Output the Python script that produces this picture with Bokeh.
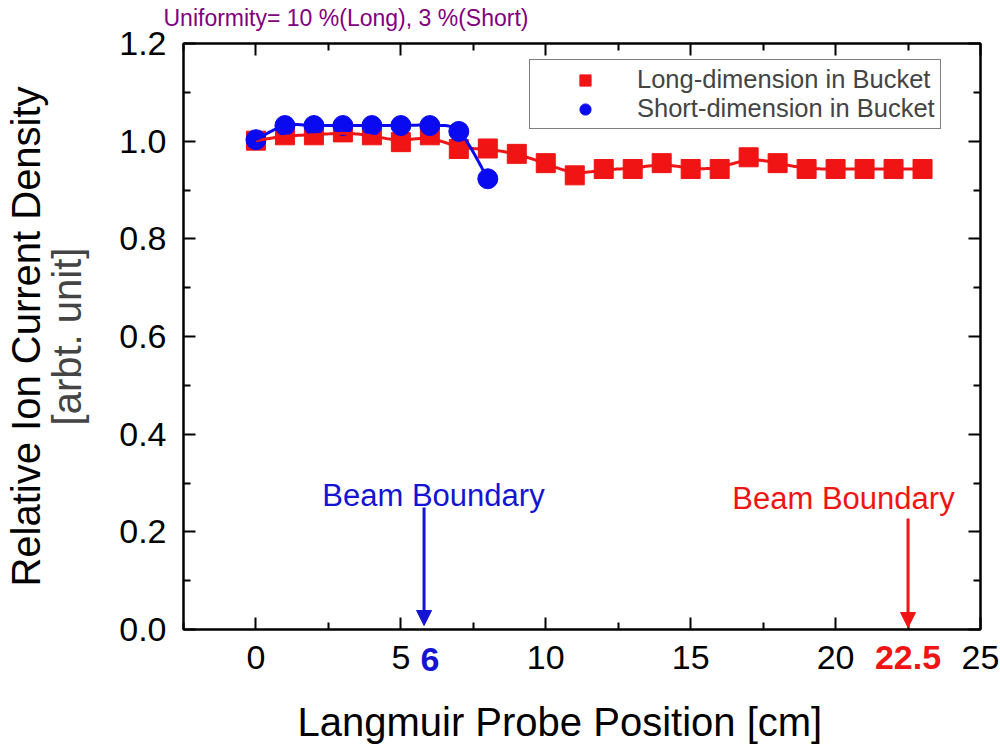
import numpy as np
from bokeh.plotting import figure
from bokeh.models import (Range1d, LinearAxis, Label, Arrow, NormalHead, Legend, LegendItem,
                          FixedTicker, PrintfTickFormatter, Title)
from bokeh.embed import file_html
from bokeh.resources import INLINE

# ---------------- data ----------------
long_x = [0, 1, 2, 3, 4, 5, 6, 7, 8, 9, 10, 11, 12, 13, 14, 15, 16, 17, 18, 19, 20, 21, 22, 23]
long_y = [1.001, 1.012, 1.012, 1.018, 1.012, 0.998, 1.012, 0.984, 0.985, 0.974, 0.955, 0.930,
          0.943, 0.943, 0.955, 0.943, 0.943, 0.967, 0.955, 0.943, 0.943, 0.943, 0.943, 0.943]
short_x = [0, 1, 2, 3, 4, 5, 6, 7, 8]
short_y = [1.003, 1.032, 1.032, 1.032, 1.032, 1.032, 1.032, 1.020, 0.923]

x_ticks = [0, 5, 10, 15, 20, 25]
x_minor = [-2.5, 2.5, 7.5, 12.5, 17.5, 22.5]
y_ticks = [0.0, 0.2, 0.4, 0.6, 0.8, 1.0, 1.2]
y_minor = [0.1, 0.3, 0.5, 0.7, 0.9, 1.1]
boundary_short = 5.8     # arrow position
boundary_short_tick = [6]
boundary_long = 22.5
boundary_long_tick = [22.5]
long_label = "Long-dimension in Bucket"
short_label = "Short-dimension in Bucket"
title_text = "Uniformity= 10 %(Long), 3 %(Short)"
x_title = "Langmuir Probe Position [cm]"
y_title = ["Relative Ion Current Density", "[arbt. unit]"]

RED = "#f01414"
BLUE = "#0a0af0"
BLUE_TXT = "#1414d2"
PURPLE = "#800080"
FONT = "Liberation Sans"
TICK_PX = 34
TICK_H = 28          # layout height of a 34px tick label row
BLANK_H = 41         # layout height of a blank 34px label
TICK_GAP = 18        # gap between frame and x tick labels

XMIN, XMAX, YMIN, YMAX = -2.5, 25.0, 0.0, 1.2
# frame in page pixels
FL, FR, FT, FB = 183, 980, 43, 629


def dx(px):
    return XMIN + (px - FL) / (FR - FL) * (XMAX - XMIN)


def dy(py):
    return YMIN + (FB - py) / (FB - FT) * (YMAX - YMIN)


def bspline_curve(xs, ys, k=3, n=500):
    P = np.column_stack([xs, ys]).astype(float)
    m = len(P)
    knots = np.concatenate([np.zeros(k), np.linspace(0, 1, m - k + 1), np.ones(k)])
    t = np.linspace(0, 1 - 1e-9, n)

    def N(i, p):
        if p == 0:
            return ((knots[i] <= t) & (t < knots[i + 1])).astype(float)
        out = np.zeros_like(t)
        d1 = knots[i + p] - knots[i]
        if d1 > 0:
            out += (t - knots[i]) / d1 * N(i, p - 1)
        d2 = knots[i + p + 1] - knots[i + 1]
        if d2 > 0:
            out += (knots[i + p + 1] - t) / d2 * N(i + 1, p - 1)
        return out

    B = np.array([N(i, k) for i in range(m)])
    C = B.T @ P
    return C[:, 0], C[:, 1]


def catmull_rom(xs, ys, n=40):
    P = np.column_stack([xs, ys]).astype(float)
    P = np.vstack([P[0], P, P[-1]])
    segs = []
    s = np.linspace(0, 1, n)[:, None]
    for i in range(1, len(P) - 2):
        p0, p1, p2, p3 = P[i - 1], P[i], P[i + 1], P[i + 2]
        c = 0.5 * ((2 * p1) + (-p0 + p2) * s + (2 * p0 - 5 * p1 + 4 * p2 - p3) * s ** 2
                   + (-p0 + 3 * p1 - 3 * p2 + p3) * s ** 3)
        segs.append(c)
    C = np.vstack(segs)
    return C[:, 0], C[:, 1]


p = figure(frame_width=FR - FL, frame_height=FB - FT,
           x_range=Range1d(XMIN, XMAX), y_range=Range1d(YMIN, YMAX),
           output_backend="svg", toolbar_location=None,
           min_border_left=FL, min_border_right=19, min_border_top=FT,
           min_border_bottom=108, background_fill_color="white", border_fill_color="white")
p.xgrid.visible = False
p.ygrid.visible = False
p.outline_line_color = "black"
p.outline_line_width = 2

main_x = p.below[0]
main_y = p.left[0]
main_x.ticker = FixedTicker(ticks=x_ticks, minor_ticks=x_minor)
main_y.ticker = FixedTicker(ticks=y_ticks, minor_ticks=y_minor)
main_y.formatter = PrintfTickFormatter(format="%.1f")

top_ax = LinearAxis(ticker=FixedTicker(ticks=x_ticks, minor_ticks=x_minor))
right_ax = LinearAxis(ticker=FixedTicker(ticks=y_ticks, minor_ticks=y_minor))
p.add_layout(top_ax, "above")
p.add_layout(right_ax, "right")

for ax in [main_x, main_y, top_ax, right_ax]:
    ax.major_tick_in = 12
    ax.major_tick_out = 0
    ax.minor_tick_in = 7
    ax.minor_tick_out = 0
    ax.axis_line_width = 2
    ax.major_tick_line_width = 2
    ax.minor_tick_line_width = 2
    ax.major_label_text_font = FONT
    ax.major_label_text_font_size = f"{TICK_PX}px"
    ax.major_label_text_color = "black"
for ax in [top_ax, right_ax, main_x]:
    ax.major_label_text_font_size = "1px"
    ax.major_label_text_alpha = 0
    ax.major_label_standoff = 0
main_y.major_label_standoff = 17
main_y.axis_label = y_title[1]
main_y.axis_label_text_font = FONT
main_y.axis_label_text_font_size = "40px"
main_y.axis_label_text_font_style = "normal"
main_y.axis_label_standoff = 27


def text_axis(side, ticks=(), label="", standoff=0, size="40px",
              color="black", bold=False, lab_standoff=0, overrides=None):
    ax = LinearAxis(ticker=FixedTicker(ticks=list(ticks)),
                    axis_line_color=None, major_tick_line_color=None,
                    minor_tick_line_color=None, major_tick_in=0, major_tick_out=0,
                    minor_tick_in=0, minor_tick_out=0,
                    major_label_text_font=FONT, major_label_text_font_size=size,
                    major_label_text_color=color,
                    major_label_text_font_style="bold" if bold else "normal",
                    major_label_standoff=lab_standoff)
    if overrides:
        ax.major_label_overrides = overrides
    if label:
        ax.axis_label = label
        ax.axis_label_text_font = FONT
        ax.axis_label_text_font_size = size
        ax.axis_label_text_font_style = "normal"
        ax.axis_label_text_color = color
        ax.axis_label_standoff = standoff
    p.add_layout(ax, side)
    return ax


def spacer(side, px):
    # an axis whose only (blank) label reserves px pixels of room
    return text_axis(side, ticks=[0], size=f"{TICK_PX}px", lab_standoff=px - BLANK_H,
                     overrides={0: " "})


# x tick labels: the coloured beam-boundary ones and the black ones share one row
text_axis("below", ticks=boundary_short_tick, size=f"{TICK_PX}px", color=BLUE_TXT, bold=True,
          lab_standoff=TICK_GAP)
text_axis("below", ticks=boundary_long_tick, size=f"{TICK_PX}px", color=RED, bold=True,
          lab_standoff=-TICK_H)
text_axis("below", ticks=x_ticks, size=f"{TICK_PX}px", lab_standoff=-TICK_H)

# spacer, then the x title
spacer("below", 26)
p.add_layout(Title(text=x_title, align="left", offset=297 - FL, vertical_align="top",
                   standoff=0, text_font=FONT, text_font_size="40px",
                   text_font_style="normal", text_color="black"), "below")
text_axis("left", label=y_title[0], standoff=-5)

# spacer, then the chart title
spacer("above", 13)
p.add_layout(Title(text=title_text, align="left", offset=163 - FL, vertical_align="bottom",
                   standoff=0, text_font=FONT, text_font_size="23px",
                   text_font_style="normal", text_color=PURPLE), "above")

# ---------------- series ----------------
r_sq = p.scatter(long_x, long_y, marker="square", size=19, fill_color=RED, line_color=RED)
r_ci = p.scatter(short_x, short_y, marker="circle", size=20, fill_color=BLUE, line_color=BLUE)
lx, ly = bspline_curve(long_x, long_y)
p.line(lx, ly, line_color=RED, line_width=3)
sx, sy = catmull_rom(short_x, short_y)
p.line(sx, sy, line_color=BLUE, line_width=3)

legend = Legend(items=[LegendItem(label=long_label, renderers=[r_sq]),
                       LegendItem(label=short_label, renderers=[r_ci])],
                location=(529 - FL, FB - 129), padding=5, margin=0,
                glyph_width=100, glyph_height=28, label_height=28, spacing=0,
                label_standoff=2, label_text_font=FONT, label_text_font_size="25.5px",
                border_line_color="black", border_line_width=1.5,
                background_fill_color="white", background_fill_alpha=1.0)
p.add_layout(legend)

# ---------------- annotations ----------------
p.add_layout(Arrow(end=NormalHead(size=15, fill_color=BLUE_TXT, line_color=BLUE_TXT),
                   x_start=boundary_short, y_start=dy(507), x_end=boundary_short, y_end=dy(625),
                   line_color=BLUE_TXT, line_width=3))
p.add_layout(Arrow(end=NormalHead(size=15, fill_color=RED, line_color=RED),
                   x_start=boundary_long, y_start=dy(518), x_end=boundary_long, y_end=dy(627),
                   line_color=RED, line_width=3))
p.add_layout(Label(x=dx(433), y=dy(495), text="Beam Boundary", text_align="center",
                   text_baseline="alphabetic", text_font=FONT, text_font_size="31px",
                   text_color=BLUE_TXT))
p.add_layout(Label(x=dx(843), y=dy(498), text="Beam Boundary", text_align="center",
                   text_baseline="alphabetic", text_font=FONT, text_font_size="31px",
                   text_color=RED))

open("out.html", "w").write(file_html(p, INLINE))
